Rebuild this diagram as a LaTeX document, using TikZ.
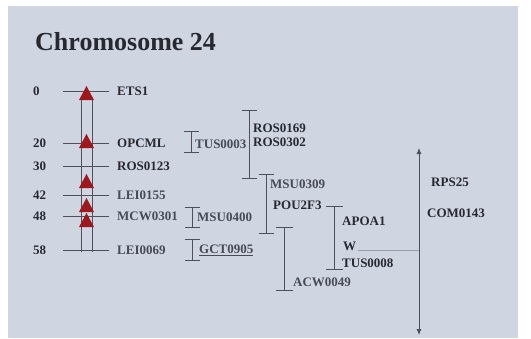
\documentclass[tikz,border=0pt]{standalone}
\usepackage{fontspec}
\setmainfont{Liberation Serif}
\usetikzlibrary{arrows.meta,positioning}
\definecolor{slide}{RGB}{207,214,226}
\definecolor{ink}{RGB}{40,40,48}
\definecolor{faint}{RGB}{72,74,86}
\definecolor{rule}{RGB}{78,80,90}
\definecolor{markred}{RGB}{158,24,30}
\tikzset{
  blbl/.style={anchor=west,inner sep=0pt,text=ink,font=\fontsize{13}{15}\selectfont\bfseries},
  lbl/.style={blbl,text=faint},
  ibeam/.style={draw=rule,line width=0.8pt,{Bar[width=15pt]}-{Bar[width=15pt]}},
  tick/.style={draw=rule,line width=0.8pt}
}
\begin{document}
\begin{tikzpicture}[x=1pt,y=-1pt]
\useasboundingbox (0,0) rectangle (531,338);
% slide background
\fill[slide] (8,6) rectangle (518,338);
\node[anchor=base west,inner sep=0pt,text=ink,font=\fontsize{26}{30}\selectfont\bfseries] (title) at (35,50) {Chromosome 24};
% chromosome ticks, positions and markers
\foreach \cm/\y/\g/\s in {0/91/ETS1/blbl,20/143/OPCML/blbl,30/166/ROS0123/blbl,42/195/LEI0155/lbl,48/216/MCW0301/lbl,58/250/LEI0069/lbl} {
  \coordinate (l\cm) at (63,\y);
  \coordinate (r\cm) at (109,\y);
  \draw[tick] (l\cm) -- (r\cm);
  \node[blbl] (cm\cm) at (33,\y) {\cm};
  \node[\s] (g\cm) at (117,\y) {\g};
}
% chromosome body
\coordinate (ctl) at (81,100);
\coordinate (cbl) at (81,252);
\coordinate (ctr) at (92,100);
\coordinate (cbr) at (92,252);
\draw[tick] (ctl) -- (cbl);
\draw[tick] (ctr) -- (cbr);
% markers
\foreach \y in {100,148,188,212,227} {
  \fill[markred] (79,\y) -- (94,\y) -- (86.5,\y-14) -- cycle;
}
% intervals
\coordinate (tusT) at (191,131);   \coordinate (tusB) at (191,153);
\coordinate (rosT) at (249,110);   \coordinate (rosB) at (249,179);
\coordinate (msuT) at (266,174);   \coordinate (msuB) at (266,234);
\coordinate (apoT) at (334,206);   \coordinate (apoB) at (334,270);
\coordinate (acwT) at (284,227);   \coordinate (acwB) at (284,291);
\coordinate (ms4T) at (192,207);   \coordinate (ms4B) at (192,228);
\coordinate (gctT) at (192,239);   \coordinate (gctB) at (192,261);
\draw[ibeam] (tusT) -- (tusB);
\draw[ibeam] (rosT) -- (rosB);
\draw[ibeam] (msuT) -- (msuB);
\draw[ibeam,{Bar[width=17pt]}-{Bar[width=17pt]}] (apoT) -- (apoB);
\draw[ibeam,{Bar[width=17pt]}-{Bar[width=17pt]}] (acwT) -- (acwB);
\draw[ibeam] (ms4T) -- (ms4B);
\draw[ibeam] (gctT) -- (gctB);
\node[lbl] (tus0003) at (195,144) {TUS0003};
\node[blbl] (ros0169) at (253,128) {ROS0169};
\node[blbl] (ros0302) at (253,142) {ROS0302};
\node[lbl] (msu0309) at (270,184) {MSU0309};
\node[blbl] (pou2f3) at (273,205) {POU2F3};
\node[blbl] (apoa1) at (342,221) {APOA1};
\node[blbl] (w) at (343,246) {W};
\node[blbl] (tus0008) at (342,263) {TUS0008};
\node[lbl] (acw0049) at (293,282) {ACW0049};
\node[lbl] (msu0400) at (197,217) {MSU0400};
\node[lbl] (gct0905) at (199,250) {\underline{GCT0905}};
% span arrow
\coordinate (arT) at (419,148);
\coordinate (arB) at (419,335);
\coordinate (wl) at (358,250);
\coordinate (wr) at (419,250);
\draw[draw=rule!55,line width=0.5pt] (wl) -- (wr);
\draw[tick,{Latex[length=6pt,width=5pt]}-{Latex[length=6pt,width=5pt]}] (arT) -- (arB);
\node[blbl] (rps25) at (431,182) {RPS25};
\node[blbl] (com0143) at (427,213) {COM0143};
\end{tikzpicture}
\end{document}
